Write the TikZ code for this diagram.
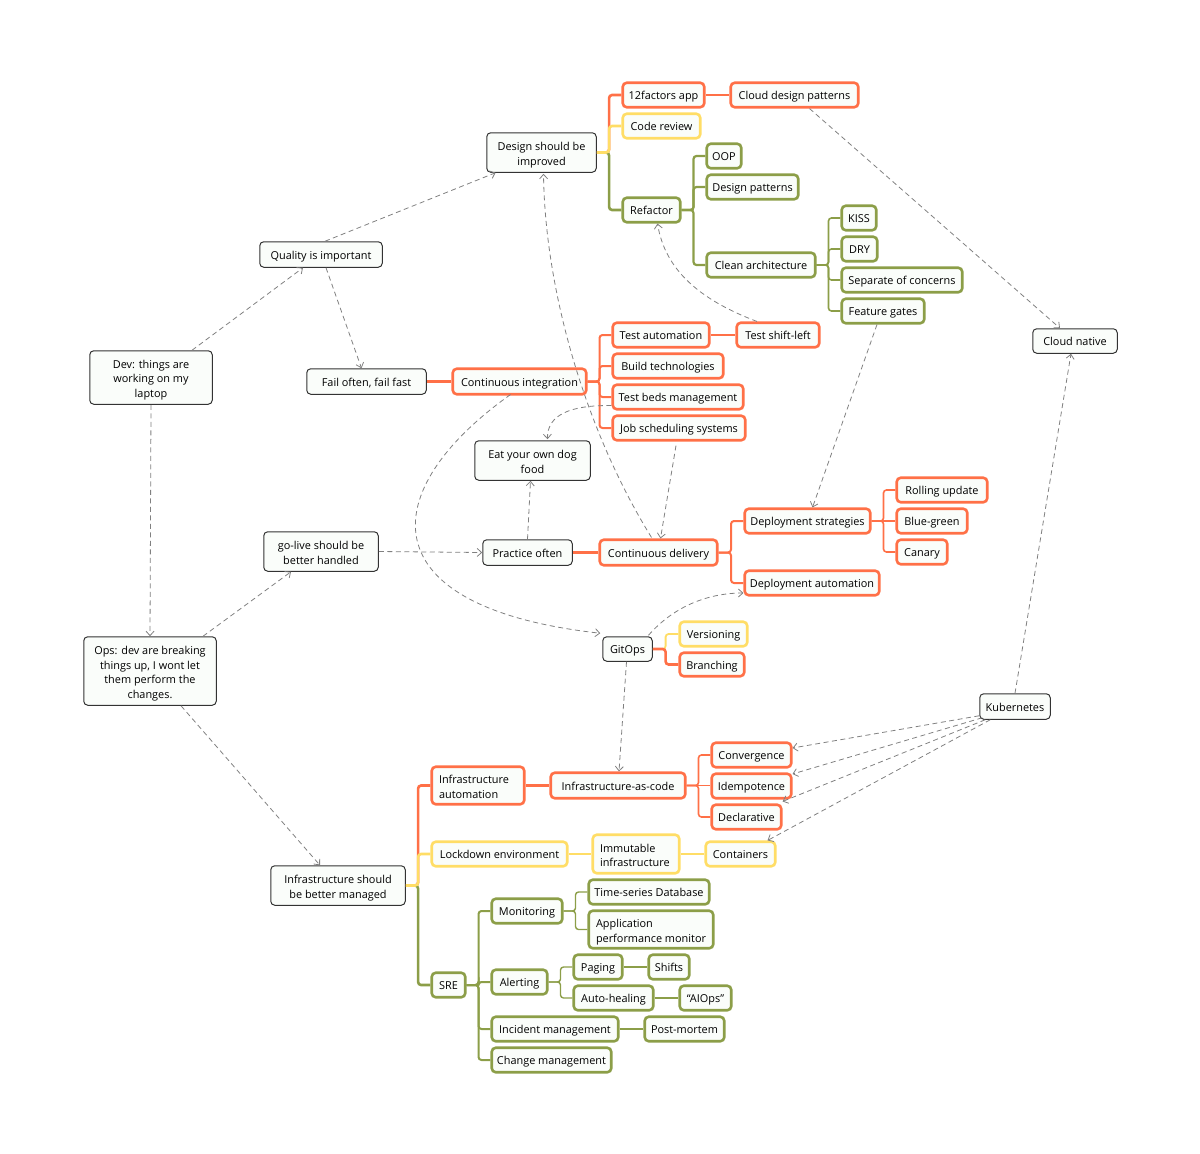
\documentclass[tikz,border=0pt]{standalone}
\usepackage{fontspec}
\setmainfont{Open Sans}
\usetikzlibrary{arrows.meta,calc}
\definecolor{cred}{HTML}{FF7047}
\definecolor{cyel}{HTML}{FFDD66}
\definecolor{cgrn}{HTML}{8C9E48}
\definecolor{cbox}{HTML}{FAFDFA}
\definecolor{cdark}{HTML}{333333}
\definecolor{cdep}{HTML}{808080}
\newcommand\tl{\rule{0pt}{13.5pt}}
\tikzset{
  base/.style={rounded corners=4pt,fill=cbox,inner sep=0pt,align=center,font=\fontsize{10.9}{14.5}\selectfont,text=black,
    execute at begin node={\rule{0pt}{12pt}},execute at end node={\rule[-3pt]{0pt}{3pt}}},
  gbox/.style={base,draw=cdark,line width=1pt},
  rbox/.style={base,draw=cred,line width=2.6pt},
  ybox/.style={base,draw=cyel,line width=2.6pt},
  nbox/.style={base,draw=cgrn,line width=2.6pt},
  dep/.style={draw=cdep,line width=.8pt,dash pattern=on 5pt off 3.5pt,-{Straight Barb[length=4.5pt,width=8pt]}},
  lk/.style={rounded corners=3pt,line width=#1},
  lk/.default=2.6pt
}
% style, name, x0, y0, x1, y1, text
\newcommand\bx[7]{\node[#1,minimum width={#5-#3-1.5},minimum height={#6-#4-1.5}] (#2) at ({(#3+#5)/2},{(#4+#6)/2}) {#7};}
% colour, width, parent, child
\newcommand\tr[4]{\draw[lk=#2,#1] (#3.east) -- ($(#3.east)!.5!(#3.east -| #4.west)$) |- (#4.west);}
\newcommand\st[4]{\draw[line width=#2,#1] (#3.east) -- (#3.east -| #4.west);}
\begin{document}
\begin{tikzpicture}[x=1pt,y=-1pt]
\path[use as bounding box] (0,0) rectangle (1200,1154);
% grey nodes
\bx{gbox}{design}{486}{132}{597}{173}{\tl Design should be\\improved}
\bx{gbox}{quality}{259}{241}{383}{268}{Quality is important}
\bx{gbox}{dev}{89}{350}{213}{405}{\tl Dev: things are\\working on my\\laptop}
\bx{gbox}{fail}{306}{368}{427}{395}{Fail often, fail fast}
\bx{gbox}{eat}{474}{440}{591}{481}{\tl Eat your own dog\\food}
\bx{gbox}{golive}{263}{531}{379}{572}{\tl go-live should be\\better handled}
\bx{gbox}{practice}{482}{539}{573}{566}{Practice often}
\bx{gbox}{ops}{83}{636}{217}{706}{\tl Ops: dev are breaking\\things up, I wont let\\them perform the\\changes.}
\bx{gbox}{gitops}{602}{636}{653}{662}{GitOps}
\bx{gbox}{k8s}{979}{693}{1051}{720}{Kubernetes}
\bx{gbox}{cloudn}{1032}{328}{1118}{354}{Cloud native}
\bx{gbox}{infra}{270}{865}{406}{906}{\tl Infrastructure should\\be better managed}
% design subtree
\bx{rbox}{twelve}{622}{82}{705}{108}{12factors app}
\bx{rbox}{cdp}{730}{82}{859}{108}{Cloud design patterns}
\bx{ybox}{review}{622}{113}{701}{139}{Code review}
\bx{nbox}{refactor}{622}{197}{681}{223}{Refactor}
\bx{nbox}{oop}{706}{143}{742}{169}{OOP}
\bx{nbox}{dpat}{706}{174}{799}{200}{Design patterns}
\bx{nbox}{clean}{706}{252}{816}{278}{Clean architecture}
\bx{nbox}{kiss}{841}{205}{877}{231}{KISS}
\bx{nbox}{dry}{841}{236}{878}{262}{DRY}
\bx{nbox}{sep}{841}{267}{963}{293}{Separate of concerns}
\bx{nbox}{gates}{841}{298}{925}{324}{Feature gates}
% CI
\bx{rbox}{ci}{452}{368}{587}{395}{Continuous integration}
\bx{rbox}{tauto}{612}{322}{710}{348}{Test automation}
\bx{rbox}{shift}{736}{322}{820}{348}{Test shift-left}
\bx{rbox}{build}{612}{353}{724}{379}{Build technologies}
\bx{rbox}{beds}{612}{384}{744}{410}{Test beds management}
\bx{rbox}{job}{612}{415}{746}{441}{Job scheduling systems}
% CD
\bx{rbox}{cd}{599}{539}{718}{566}{Continuous delivery}
\bx{rbox}{dstrat}{744}{508}{871}{534}{Deployment strategies}
\bx{rbox}{dauto}{744}{570}{880}{596}{Deployment automation}
\bx{rbox}{rolling}{896}{477}{988}{503}{Rolling update}
\bx{rbox}{blue}{896}{508}{968}{534}{Blue-green}
\bx{rbox}{canary}{896}{539}{948}{565}{Canary}
% GitOps
\bx{ybox}{version}{679}{621}{748}{647}{Versioning}
\bx{rbox}{branch}{679}{652}{745}{677}{Branching}
% Infra
\bx{rbox}{iauto}{431}{766}{525}{805}{\hbox to 78pt{\tl Infrastructure\hss}\\\hbox to 78pt{automation\hss}}
\bx{rbox}{iac}{550}{772}{686}{799}{Infrastructure-as-code}
\bx{rbox}{conv}{711}{742}{792}{768}{Convergence}
\bx{rbox}{idem}{711}{773}{792}{799}{Idempotence}
\bx{rbox}{decl}{711}{804}{782}{830}{Declarative}
\bx{ybox}{lock}{431}{841}{568}{867}{Lockdown environment}
\bx{ybox}{immut}{592}{834}{680}{874}{\hbox to 72pt{\tl Immutable\hss}\\\hbox to 72pt{infrastructure\hss}}
\bx{ybox}{contain}{705}{841}{776}{867}{Containers}
% SRE
\bx{nbox}{sre}{431}{972}{466}{998}{SRE}
\bx{nbox}{monit}{491}{898}{563}{924}{Monitoring}
\bx{nbox}{tsdb}{588}{879}{710}{905}{Time-series Database}
\bx{nbox}{apm}{588}{910}{714}{949}{\hbox to 110pt{\tl Application\hss}\\\hbox to 110pt{performance monitor\hss}}
\bx{nbox}{alert}{491}{969}{548}{995}{Alerting}
\bx{nbox}{paging}{573}{954}{623}{980}{Paging}
\bx{nbox}{shifts}{648}{954}{690}{980}{Shifts}
\bx{nbox}{heal}{573}{985}{654}{1011}{Auto-healing}
\bx{nbox}{aiops}{679}{985}{732}{1011}{“AIOps”}
\bx{nbox}{incident}{491}{1016}{619}{1042}{Incident management}
\bx{nbox}{post}{644}{1016}{725}{1042}{Post-mortem}
\bx{nbox}{change}{491}{1047}{612}{1073}{Change management}
% tree links
\tr{cred}{2.6pt}{design}{twelve}
\tr{cgrn}{2.6pt}{design}{refactor}
\tr{cyel}{2.6pt}{design}{review}
\st{cred}{2.4pt}{twelve}{cdp}
\tr{cgrn}{2.2pt}{refactor}{oop}
\tr{cgrn}{2.2pt}{refactor}{dpat}
\tr{cgrn}{2.2pt}{refactor}{clean}
\tr{cgrn}{1.6pt}{clean}{kiss}
\tr{cgrn}{1.6pt}{clean}{dry}
\tr{cgrn}{1.6pt}{clean}{sep}
\tr{cgrn}{1.6pt}{clean}{gates}
\st{cred}{2.6pt}{fail}{ci}
\tr{cred}{2pt}{ci}{tauto}
\tr{cred}{2pt}{ci}{build}
\tr{cred}{2pt}{ci}{beds}
\tr{cred}{2pt}{ci}{job}
\st{cred}{1.6pt}{tauto}{shift}
\st{cred}{2.6pt}{practice}{cd}
\tr{cred}{2pt}{cd}{dstrat}
\tr{cred}{2pt}{cd}{dauto}
\tr{cred}{1.6pt}{dstrat}{rolling}
\st{cred}{1.6pt}{dstrat}{blue}
\tr{cred}{1.6pt}{dstrat}{canary}
\tr{cyel}{1.8pt}{gitops}{version}
\tr{cred}{2.6pt}{gitops}{branch}
\tr{cred}{2.6pt}{infra}{iauto}
\tr{cgrn}{2.6pt}{infra}{sre}
\tr{cyel}{2.6pt}{infra}{lock}
\st{cred}{2.2pt}{iauto}{iac}
\tr{cred}{1.6pt}{iac}{conv}
\st{cred}{1.6pt}{iac}{idem}
\tr{cred}{1.6pt}{iac}{decl}
\st{cyel}{2.2pt}{lock}{immut}
\st{cyel}{1.6pt}{immut}{contain}
\tr{cgrn}{2pt}{sre}{monit}
\tr{cgrn}{2pt}{sre}{alert}
\tr{cgrn}{2pt}{sre}{incident}
\tr{cgrn}{2pt}{sre}{change}
\tr{cgrn}{1.4pt}{monit}{tsdb}
\tr{cgrn}{1.4pt}{monit}{apm}
\tr{cgrn}{1.4pt}{alert}{paging}
\tr{cgrn}{1.4pt}{alert}{heal}
\st{cgrn}{1.2pt}{paging}{shifts}
\st{cgrn}{1.2pt}{heal}{aiops}
\st{cgrn}{1.4pt}{incident}{post}
% dependency arrows
\draw[dep] ([xshift=41pt]dev.north) -- ([xshift=-18pt]quality.south);
\draw[dep] ([xshift=4pt]quality.north) -- ([xshift=-46pt]design.south);
\draw[dep] ([xshift=5pt]quality.south) -- ([xshift=-5pt]fail.north);
\draw[dep] (dev.south) -- (ops.north);
\draw[dep] ([xshift=53pt]ops.north) -- ([xshift=-30pt]golive.south);
\draw[dep] ([xshift=31pt]ops.south) -- ([xshift=-18pt]infra.north);
\draw[dep] (golive.east) -- (practice.west);
\draw[dep] (practice.north) -- ([xshift=3pt]practice.north |- eat.south);
\draw[dep] ([xshift=-7pt,yshift=1pt]cd.north) .. controls (585,430) and (545,290) .. ([xshift=2pt,yshift=-1pt]design.south);
\draw[dep] ([xshift=-3pt,yshift=-4pt]job.south) -- ([xshift=2pt]cd.north);
\draw[dep] ([yshift=5pt]beds.south west) .. controls (570,405) and (547,415) .. ([xshift=15pt,yshift=1pt]eat.north);
\draw[dep] ([xshift=-9pt,yshift=1pt]ci.south) .. controls (376,490) and (366,607) .. ([xshift=-2pt,yshift=3pt]gitops.north west);
\draw[dep] ([xshift=21pt,yshift=1pt]gitops.north) .. controls (675,605) and (710,593) .. ([yshift=-10pt]dauto.west);
\draw[dep] ([xshift=-1pt]gitops.south) -- ([xshift=1pt]iac.north);
\draw[dep] ([xshift=15pt]cdp.south) -- ([xshift=-15pt]cloudn.north);
\draw[dep] ([xshift=-21pt]shift.north) .. controls (700,300) and (665,270) .. ([xshift=6pt]refactor.south);
\draw[dep] ([xshift=-6pt]gates.south) -- ([xshift=5pt]dstrat.north);
\draw[dep] (k8s.north) -- ([xshift=-4pt]cloudn.south);
\draw[dep] ([yshift=4pt]k8s.south west) -- ([yshift=7pt]conv.east);
\draw[dep] ([xshift=3pt,yshift=2pt]k8s.south west) -- ([yshift=12pt]idem.east);
\draw[dep] ([xshift=6pt]k8s.south west) -- ([yshift=2pt]decl.north east);
\draw[dep] ([xshift=11pt]k8s.south west) -- ([xshift=-9pt]contain.north east);
\end{tikzpicture}
\end{document}
